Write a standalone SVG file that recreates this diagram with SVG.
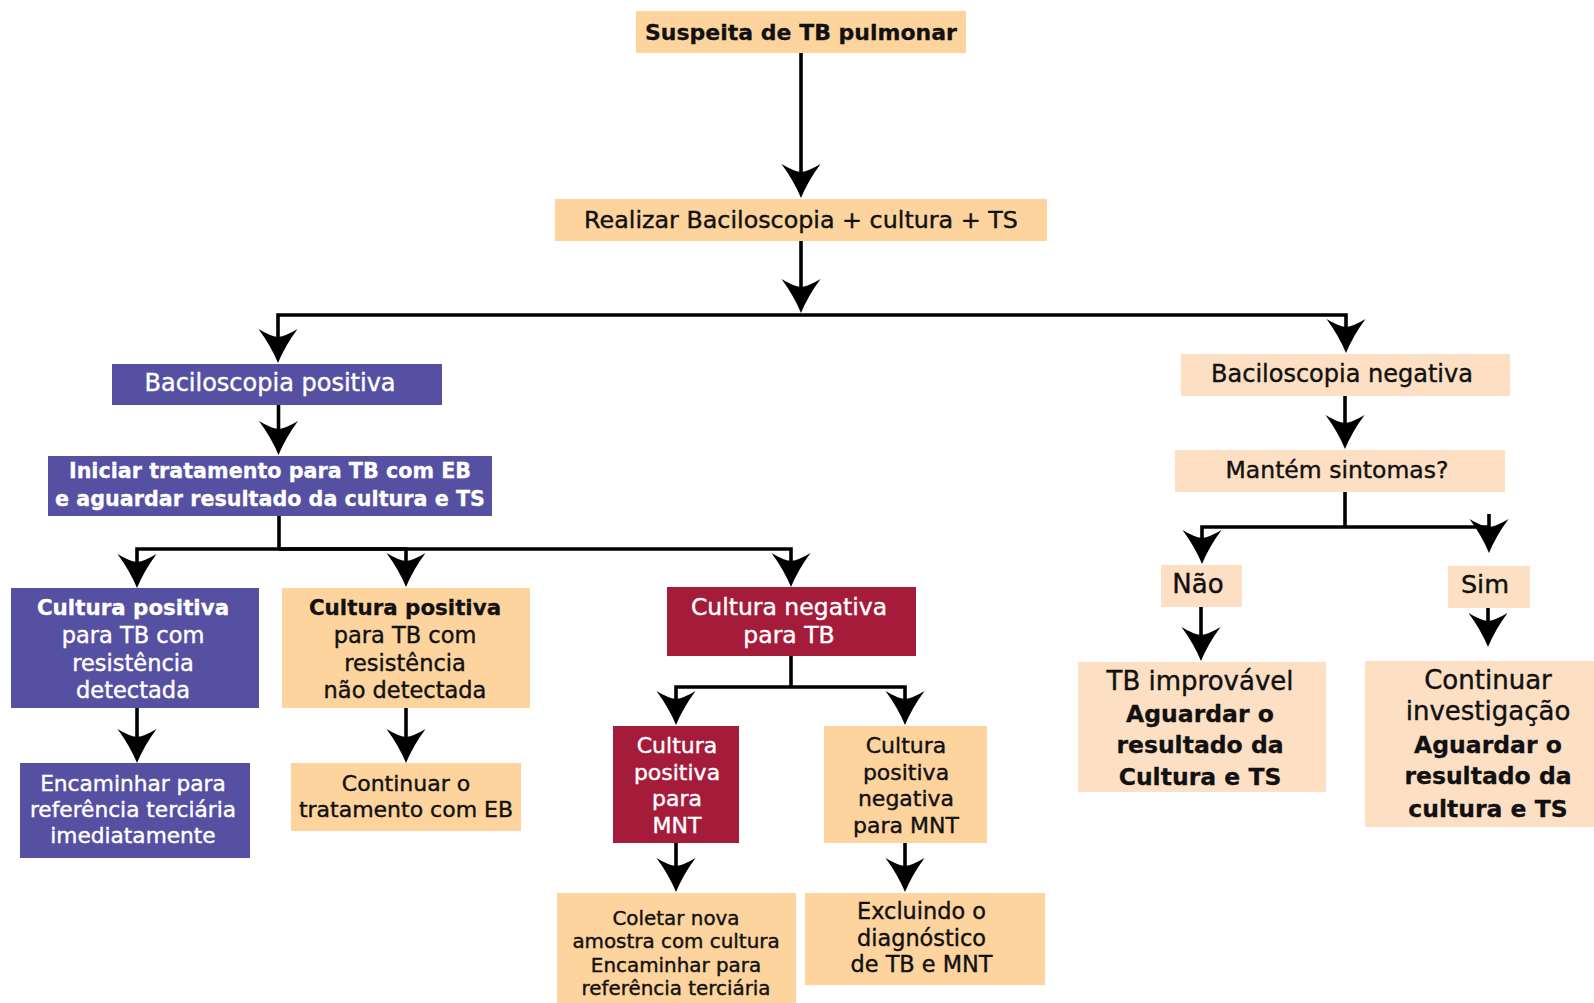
<svg xmlns="http://www.w3.org/2000/svg" width="1594" height="1003" viewBox="0 0 1594 1003">
<style>
text{font-family:"DejaVu Sans","Liberation Sans",sans-serif;text-anchor:middle;stroke-width:0.4}
.b{font-weight:bold;stroke-width:0.3}
.w{fill:#fff;stroke:#fff}
.k{fill:#111;stroke:#111}
.or{fill:#fdd49e}
.lt{fill:#fde0c3}
.pu{fill:#5650a3}
.rd{fill:#a51c3b}
.c{fill:none;stroke:#000;stroke-width:3.6;marker-end:url(#ah)}
.n{fill:none;stroke:#000;stroke-width:3.6}
</style>
<defs>
<marker id="ah" viewBox="0 -20 34 40" refX="24" refY="0" markerWidth="34" markerHeight="40" markerUnits="userSpaceOnUse" orient="auto">
<path d="M34,0 Q17,-7 0,-19.5 Q7,-8 8,0 Q7,8 0,19.5 Q17,7 34,0 Z" fill="#000"/>
</marker>
</defs>
<rect width="1594" height="1003" fill="#fff"/>

<g id="connectors">
<path class="c" d="M801,53 V188"/>
<path class="c" d="M801,241 V303"/>
<path class="c" d="M801,315 H278 V353"/>
<path class="c" d="M801,315 H1346 V343"/>
<path class="c" d="M278.5,405 V445"/>
<path class="n" d="M279,516 V549"/>
<path class="c" d="M279,549 H137 V578"/>
<path class="c" d="M279,549 H406 V577"/>
<path class="c" d="M279,549 H791 V577"/>
<path class="c" d="M137,708 V753"/>
<path class="c" d="M406,708 V753"/>
<path class="n" d="M791,656 V687"/>
<path class="c" d="M791,687 H676 V715"/>
<path class="c" d="M791,687 H905 V715"/>
<path class="c" d="M676,843 V882"/>
<path class="c" d="M905,843 V882"/>
<path class="c" d="M1345,396 V439"/>
<path class="n" d="M1345,492 V527"/>
<path class="c" d="M1345,527 H1202 V554"/>
<path class="n" d="M1345,527 H1489"/>
<path class="c" d="M1489,514 V543"/>
<path class="c" d="M1201,607 V651"/>
<path class="c" d="M1488,608 V637"/>
</g>

<g id="n-suspeita">
<rect class="or" x="636" y="11" width="330" height="42"/>
<text class="b k" x="801" y="39.5" font-size="22">Suspeita de TB pulmonar</text>
</g>
<g id="n-realizar">
<rect class="or" x="555" y="199" width="492" height="42"/>
<text class="k" x="801" y="228" font-size="23.8">Realizar Baciloscopia + cultura + TS</text>
</g>
<g id="n-bacpos">
<rect class="pu" x="112" y="364" width="330" height="41"/>
<text class="w" x="270" y="391" font-size="24">Baciloscopia positiva</text>
</g>
<g id="n-iniciar">
<rect class="pu" x="48" y="456" width="444" height="60"/>
<text class="w b" x="270" y="478.3" font-size="20.7">Iniciar tratamento para TB com EB</text>
<text class="w b" x="270" y="505.7" font-size="20.7">e aguardar resultado da cultura e TS</text>
</g>
<g id="n-cpos-det">
<rect class="pu" x="11" y="588" width="248" height="120"/>
<text class="w b" x="133" y="615" font-size="21.4">Cultura positiva</text>
<text class="w" x="133" y="643" font-size="22.5">para TB com</text>
<text class="w" x="133" y="670.5" font-size="22.5">resistência</text>
<text class="w" x="133" y="698" font-size="22.5">detectada</text>
</g>
<g id="n-cpos-nao">
<rect class="or" x="282" y="588" width="248" height="120"/>
<text class="k b" x="405" y="615" font-size="21.4">Cultura positiva</text>
<text class="k" x="405" y="643" font-size="22.5">para TB com</text>
<text class="k" x="405" y="670.5" font-size="22.5">resistência</text>
<text class="k" x="405" y="698" font-size="22.5">não detectada</text>
</g>
<g id="n-cneg">
<rect class="rd" x="667" y="587" width="249" height="69"/>
<text class="w" x="789" y="615" font-size="23.5">Cultura negativa</text>
<text class="w" x="789" y="642.7" font-size="23.5">para TB</text>
</g>
<g id="n-encaminhar">
<rect class="pu" x="20" y="763" width="230" height="95"/>
<text class="w" x="133" y="790.7" font-size="21.7">Encaminhar para</text>
<text class="w" x="133" y="817.3" font-size="21.7">referência terciária</text>
<text class="w" x="133" y="843.3" font-size="21.7">imediatamente</text>
</g>
<g id="n-continuar-eb">
<rect class="or" x="291" y="763" width="230" height="68"/>
<text class="k" x="406" y="790.7" font-size="22">Continuar o</text>
<text class="k" x="406" y="817.3" font-size="22">tratamento com EB</text>
</g>
<g id="n-mnt-pos">
<rect class="rd" x="613" y="726" width="126" height="117"/>
<text class="w" x="677" y="753" font-size="22">Cultura</text>
<text class="w" x="677" y="780" font-size="22">positiva</text>
<text class="w" x="677" y="806" font-size="22">para</text>
<text class="w" x="677" y="833" font-size="22">MNT</text>
</g>
<g id="n-mnt-neg">
<rect class="or" x="824" y="726" width="163" height="117"/>
<text class="k" x="906" y="753" font-size="22">Cultura</text>
<text class="k" x="906" y="780" font-size="22">positiva</text>
<text class="k" x="906" y="806" font-size="22">negativa</text>
<text class="k" x="906" y="833" font-size="22">para MNT</text>
</g>
<g id="n-coletar">
<rect class="or" x="557" y="893" width="239" height="110"/>
<text class="k" x="676" y="925" font-size="19.9">Coletar nova</text>
<text class="k" x="676" y="948.3" font-size="19.9">amostra com cultura</text>
<text class="k" x="676" y="971.7" font-size="19.9">Encaminhar para</text>
<text class="k" x="676" y="995" font-size="19.9">referência terciária</text>
</g>
<g id="n-excluindo">
<rect class="or" x="805" y="893" width="240" height="92"/>
<text class="k" x="921.5" y="919.3" font-size="22.4">Excluindo o</text>
<text class="k" x="921.5" y="945.7" font-size="22.4">diagnóstico</text>
<text class="k" x="921.5" y="971.7" font-size="22.4">de TB e MNT</text>
</g>
<g id="n-bacneg">
<rect class="lt" x="1181" y="354" width="329" height="42"/>
<text class="k" x="1342" y="381.7" font-size="24">Baciloscopia negativa</text>
</g>
<g id="n-mantem">
<rect class="lt" x="1175" y="450" width="330" height="42"/>
<text class="k" x="1337" y="477.7" font-size="23.5">Mantém sintomas?</text>
</g>
<g id="n-nao">
<rect class="lt" x="1161" y="565" width="81" height="42"/>
<text class="k" x="1198" y="593.3" font-size="26">Não</text>
</g>
<g id="n-sim">
<rect class="lt" x="1448" y="566" width="82" height="42"/>
<text class="k" x="1485" y="593.3" font-size="25.5">Sim</text>
</g>
<g id="n-improvavel">
<rect class="lt" x="1078" y="662" width="248" height="130"/>
<text class="k" x="1200" y="690" font-size="26">TB improvável</text>
<text class="k b" x="1200" y="721.5" font-size="23.5">Aguardar o</text>
<text class="k b" x="1200" y="753" font-size="23.5">resultado da</text>
<text class="k b" x="1200" y="784.5" font-size="23.5">Cultura e TS</text>
</g>
<g id="n-investigacao">
<rect class="lt" x="1365" y="661" width="229" height="166"/>
<text class="k" x="1488" y="688.5" font-size="26">Continuar</text>
<text class="k" x="1488" y="720" font-size="26">investigação</text>
<text class="k b" x="1488" y="752.5" font-size="23.5">Aguardar o</text>
<text class="k b" x="1488" y="784" font-size="23.5">resultado da</text>
<text class="k b" x="1488" y="816.5" font-size="23.5">cultura e TS</text>
</g>
</svg>
